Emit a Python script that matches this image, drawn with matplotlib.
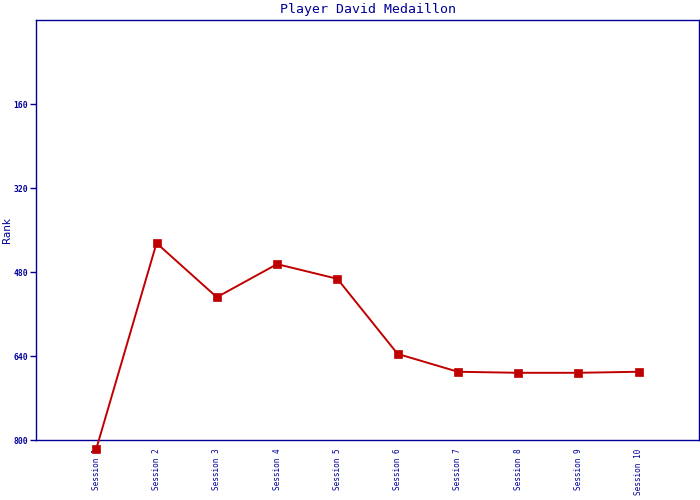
import matplotlib
matplotlib.use("Agg")
import matplotlib.pyplot as plt

sessions = ["Session 1", "Session 2", "Session 3", "Session 4", "Session 5",
            "Session 6", "Session 7", "Session 8", "Session 9", "Session 10"]
ranks = [817, 425, 528, 465, 493, 636, 670, 672, 672, 670]
yticks = [160, 320, 480, 640, 800]

navy = "#000099"
red = "#C00000"

fig = plt.figure(figsize=(7, 5), dpi=100)
ax = fig.add_axes([36/700, 60/500, 663/700, 420/500])
x = list(range(1, len(sessions) + 1))
ax.plot(x, ranks, color=red, lw=1.4, marker="s", ms=6.2, mfc=red, mec=red,
        mew=0.5, clip_on=False, zorder=5)
ax.set_xlim(0, len(sessions) + 1)
ax.set_ylim(800, 0)
ax.set_yticks(yticks)
ax.set_yticklabels([str(v) for v in yticks], fontsize=5.8, fontweight="bold",
                   family="DejaVu Sans Mono", color=navy)
ax.set_xticks(x)
ax.set_xticklabels(sessions, rotation=90, fontsize=5.6, family="DejaVu Sans Mono",
                   color=navy, va="top")
ax.tick_params(axis="x", length=0, pad=6)
ax.tick_params(axis="y", length=4, color=navy, width=1, pad=1.5)
for s in ax.spines.values():
    s.set_color(navy)
    s.set_linewidth(1)
ax.set_ylabel("Rank", fontsize=7.5, color=navy)
ax.yaxis.set_label_coords(-24/663, 0.5)
ax.set_title("Player David Medaillon", fontsize=9.5, family="DejaVu Sans Mono",
             color=navy, pad=5)
fig.savefig("out.png", dpi=100)
